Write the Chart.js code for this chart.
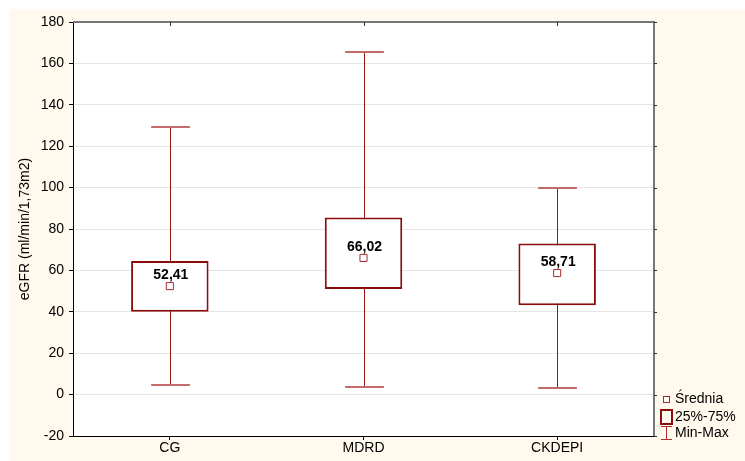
<!DOCTYPE html>
<html>
<head>
<meta charset="utf-8">
<script src="https://cdn.jsdelivr.net/npm/chart.js@4/dist/chart.umd.min.js"></script>
<style>
html,body{margin:0;padding:0;background:#fff;}
#c{display:block;}
</style>
</head>
<body>
<canvas id="c" width="745" height="461"></canvas>
<script>
const categories = ["CG", "MDRD", "CKDEPI"];
const minVals = [4.5, 3.5, 3.0];
const q1Vals = [40.0, 51.0, 43.2];
const q3Vals = [64.5, 85.5, 73.0];
const maxVals = [129.3, 165.5, 99.8];
const meanVals = [52.41, 66.02, 58.71];
const meanLabels = ["52,41", "66,02", "58,71"];
const yTickMin = -20, yTickMax = 180, yTickStep = 20;
const legendLabels = ["Średnia", "25%-75%", "Min-Max"];
const yTitle = "eGFR (ml/min/1,73m2)";

const FONT = "Arial, 'Liberation Sans', sans-serif";
const DARK = "#8b0c0c";
const CREAM = "#fff9ee";

const bgPlugin = {
  id: 'bg',
  beforeDraw(chart) {
    const ctx = chart.ctx, a = chart.chartArea;
    ctx.save();
    ctx.fillStyle = '#ffffff';
    ctx.fillRect(0, 0, chart.width, chart.height);
    ctx.fillStyle = CREAM;
    ctx.fillRect(9, 9, chart.width - 9, chart.height - 9);
    ctx.fillStyle = '#ffffff';
    ctx.fillRect(a.left, a.top, a.right - a.left, a.bottom - a.top);
    ctx.restore();
  }
};

const whiskerPlugin = {
  id: 'whiskers',
  beforeDatasetsDraw(chart) {
    const ctx = chart.ctx, xs = chart.scales.x, ys = chart.scales.y;
    const catW = xs.width / categories.length;
    ctx.save();
    for (let i = 0; i < categories.length; i++) {
      const x = Math.round(xs.getPixelForValue(i)) + 0.5;
      const yMin = ys.getPixelForValue(minVals[i]);
      const yMax = ys.getPixelForValue(maxVals[i]);
      ctx.strokeStyle = '#9a1414';
      ctx.lineWidth = 1;
      ctx.beginPath();
      ctx.moveTo(x, yMin); ctx.lineTo(x, yMax);
      ctx.stroke();
      const hw = catW * 0.1;
      ctx.strokeStyle = '#c46a6a';
      ctx.lineWidth = 2;
      ctx.beginPath();
      ctx.moveTo(x - hw, Math.round(yMin)); ctx.lineTo(x + hw, Math.round(yMin));
      ctx.moveTo(x - hw, Math.round(yMax)); ctx.lineTo(x + hw, Math.round(yMax));
      ctx.stroke();
    }
    ctx.restore();
  },
  afterDatasetsDraw(chart) {
    const ctx = chart.ctx, xs = chart.scales.x, ys = chart.scales.y, a = chart.chartArea;
    ctx.save();
    ctx.fillStyle = '#000';
    ctx.font = 'bold 14px ' + FONT;
    ctx.textAlign = 'center';
    ctx.textBaseline = 'middle';
    for (let i = 0; i < categories.length; i++) {
      const x = xs.getPixelForValue(i);
      const y = ys.getPixelForValue(meanVals[i]);
      ctx.fillText(meanLabels[i], x + 1, y - 11);
    }
    ctx.strokeStyle = '#777777';
    ctx.lineWidth = 2;
    ctx.beginPath();
    ctx.moveTo(a.left, a.top);
    ctx.lineTo(a.right, a.top);
    ctx.lineTo(a.right, a.bottom);
    ctx.stroke();
    ctx.strokeStyle = '#333';
    ctx.lineWidth = 1;
    ctx.beginPath();
    for (let v = yTickMin; v <= yTickMax; v += yTickStep) {
      const y = Math.round(ys.getPixelForValue(v)) + 0.5;
      ctx.moveTo(a.right, y); ctx.lineTo(a.right + 3, y);
    }
    for (let i = 0; i < categories.length; i++) {
      const x = Math.round(xs.getPixelForValue(i)) + 0.5;
      ctx.moveTo(x, a.top); ctx.lineTo(x, a.top + 4);
    }
    ctx.stroke();
    ctx.font = '14px ' + FONT;
    ctx.textAlign = 'left';
    ctx.textBaseline = 'middle';
    ctx.fillStyle = '#000';
    const lx = 666, tx = 675;
    const rows = [399, 417, 433];
    for (let k = 0; k < 3; k++) ctx.fillText(legendLabels[k], tx, rows[k]);
    ctx.strokeStyle = '#a52a2a';
    ctx.lineWidth = 1;
    ctx.strokeRect(lx - 3 + 0.5, rows[0] - 3 + 0.5, 6, 6);
    ctx.strokeStyle = DARK;
    ctx.lineWidth = 2;
    ctx.strokeRect(lx - 5, rows[1] - 7, 11, 14);
    ctx.strokeStyle = '#b03030';
    ctx.lineWidth = 1;
    ctx.beginPath();
    ctx.moveTo(lx - 5, rows[2] - 6.5); ctx.lineTo(lx + 6, rows[2] - 6.5);
    ctx.moveTo(lx - 5, rows[2] + 6.5); ctx.lineTo(lx + 6, rows[2] + 6.5);
    ctx.moveTo(lx + 0.5, rows[2] - 6.5); ctx.lineTo(lx + 0.5, rows[2] + 6.5);
    ctx.stroke();
    ctx.restore();
  }
};

new Chart(document.getElementById('c'), {
  data: {
    labels: categories,
    datasets: [
      {
        type: 'bar',
        data: categories.map((c, i) => [q1Vals[i], q3Vals[i]]),
        backgroundColor: '#ffffff',
        borderColor: DARK,
        borderWidth: 2,
        borderSkipped: false,
        barPercentage: 0.4,
        categoryPercentage: 1.0,
        order: 2
      },
      {
        type: 'line',
        data: meanVals,
        showLine: false,
        pointStyle: 'rect',
        pointRadius: 5,
        pointBorderWidth: 1,
        pointBackgroundColor: '#ffffff',
        pointBorderColor: '#a52a2a',
        order: 1
      }
    ]
  },
  options: {
    responsive: false,
    animation: false,
    devicePixelRatio: 1,
    layout: { padding: { left: 0, top: 22, right: 91, bottom: 0 } },
    plugins: { legend: { display: false }, tooltip: { enabled: false } },
    scales: {
      x: {
        afterFit(s) { s.height = 25; },
        grid: { offset: false, drawOnChartArea: false, drawTicks: true, tickLength: 4, tickColor: '#000' },
        border: { color: '#000', width: 1 },
        ticks: { color: '#000', font: { family: FONT, size: 14 }, padding: 0 }
      },
      y: {
        min: yTickMin, max: yTickMax,
        afterFit(s) { s.width = 73; },
        grid: { color: '#e6e6e6', borderDash: [3, 2], tickColor: '#000', tickLength: 4, tickBorderDash: [] },
        border: { color: '#000', width: 1 },
        ticks: { stepSize: yTickStep, color: '#000', font: { family: FONT, size: 14 }, padding: 5 },
        title: { display: true, text: yTitle, color: '#000', font: { family: FONT, size: 14 }, padding: { top: 17, bottom: 0 } }
      }
    }
  },
  plugins: [bgPlugin, whiskerPlugin]
});
</script>
</body>
</html>
